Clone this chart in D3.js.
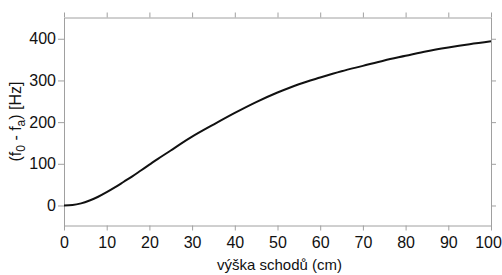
<!DOCTYPE html>
<html>
<head>
<meta charset="utf-8">
<script src="https://cdn.jsdelivr.net/npm/d3@7"></script>
<style>
  body { margin: 0; background: #fff; }
  svg { display: block; font-family: "Liberation Sans", Arial, sans-serif; }
  .axis text { fill: #111; font-size: 16px; }
</style>
</head>
<body>
<svg width="502" height="275"></svg>
<script>
// stair height (cm) and frequency difference (Hz)
let heights = [0, 2, 4, 6, 8, 10, 12, 14, 16, 18, 20, 22, 25, 27.5, 30, 35, 40, 45, 50, 55, 60, 65, 70, 75, 80, 85, 90, 95, 100];
let freqDiff = [0, 1, 5, 12, 21, 32, 44, 57, 70, 84, 98, 112, 132, 149, 165, 194, 222, 248, 271, 291, 307, 322, 335, 348, 359, 370, 379, 387, 394];
let xTicks = [0, 10, 20, 30, 40, 50, 60, 70, 80, 90, 100];
let yTicks = [0, 100, 200, 300, 400];

let svg = d3.select("svg"),
  margin = { top: 17.5, right: 11, bottom: 49.5, left: 64 },
  width = +svg.attr("width") - margin.left - margin.right,
  height = +svg.attr("height") - margin.top - margin.bottom;

let x = d3.scaleLinear().domain([0, 100]).range([0, width]),
  y = d3.scaleLinear().domain([-48, 451]).range([height, 0]);

let g = svg.append("g")
  .attr("transform", "translate(" + margin.left + "," + margin.top + ")");

// bottom axis with labels
let xAxis = g.append("g")
  .attr("class", "axis")
  .attr("transform", "translate(0," + height + ")")
  .call(d3.axisBottom(x).tickValues(xTicks).tickSize(5).tickPadding(6).tickSizeOuter(0));

// last label runs to the edge, pull it in a little
xAxis.selectAll(".tick text").filter(function (d) { return d === 100; }).attr("dx", -3);

// left axis with labels
g.append("g")
  .attr("class", "axis")
  .call(d3.axisLeft(y).tickValues(yTicks).tickSize(6).tickPadding(2).tickSizeOuter(0));

// top and right: ticks only
g.append("g")
  .attr("class", "axis")
  .call(d3.axisTop(x).tickValues(xTicks).tickSize(5).tickFormat("").tickSizeOuter(0));

g.append("g")
  .attr("class", "axis")
  .attr("transform", "translate(" + width + ",0)")
  .call(d3.axisRight(y).tickValues(yTicks).tickSize(5).tickFormat("").tickSizeOuter(0));

g.selectAll(".axis .domain, .axis line").attr("stroke", "#a0a0a0");

// the curve
let line = d3.line()
  .x(function (d, i) { return x(heights[i]); })
  .y(function (d) { return y(d); })
  .curve(d3.curveMonotoneX);

g.append("path")
  .datum(freqDiff)
  .attr("fill", "none")
  .attr("stroke", "#111")
  .attr("stroke-width", 2)
  .attr("d", line);

// axis titles
svg.append("text")
  .attr("x", margin.left + width / 2 + 2)
  .attr("y", 270)
  .attr("text-anchor", "middle")
  .attr("font-size", 15)
  .attr("fill", "#111")
  .text("výška schodů (cm)");

let yl = svg.append("text")
  .attr("transform", "translate(21," + (margin.top + height / 2) + ") rotate(-90)")
  .attr("text-anchor", "middle")
  .attr("font-size", 16)
  .attr("fill", "#111");
yl.append("tspan").text("(f");
yl.append("tspan").attr("font-size", 12).attr("dy", 4).text("0");
yl.append("tspan").attr("dy", -4).text(" - f");
yl.append("tspan").attr("font-size", 12).attr("dy", 4).text("a");
yl.append("tspan").attr("dy", -4).text(") [Hz]");
</script>
</body>
</html>
